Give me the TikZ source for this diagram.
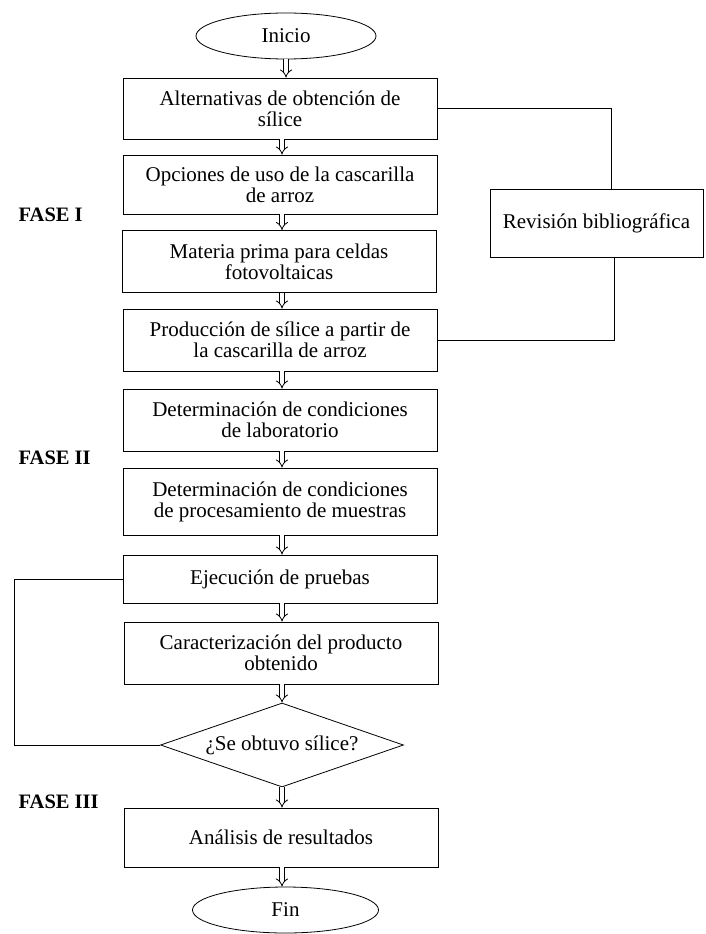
\documentclass[tikz,border=0pt]{standalone}
\usepackage{fontspec}
\setmainfont{Liberation Serif}
\usetikzlibrary{arrows.meta, shapes.geometric, positioning}

\begin{document}
\begin{tikzpicture}[x=1pt, y=-1pt,
    font=\fontsize{21}{21}\selectfont,
    line width=0.8pt,
    caja/.style={draw, minimum width=314pt, minimum height=62pt, inner sep=0pt, align=center},
    terminal/.style={draw, ellipse, minimum width=180pt, minimum height=46pt, inner sep=0pt},
    decision/.style={draw, diamond, minimum width=243pt, minimum height=84pt, inner sep=0pt, aspect=2.9},
    fase/.style={anchor=west, font=\fontsize{20.5}{21}\selectfont\bfseries},
    flecha/.style={double, double distance=3.5pt, line width=0.8pt, -Implies}]
      \useasboundingbox (0,0) rectangle (706,934);
      %
      \node[terminal] (inicio) at (286,36) {Inicio};
      \node[caja, minimum height=61pt] (alt) at (280,108.5) {Alternativas de obtención de\\sílice};
      \node[caja, minimum height=59pt] (opc) at (280,184.5) {Opciones de uso de la cascarilla\\de arroz};
      \node[caja] (mat) at (279,261.5) {Materia prima para celdas\\fotovoltaicas};
      \node[caja] (prod) at (280,340) {Producción de sílice a partir de\\la cascarilla de arroz};
      \node[caja] (lab) at (280,420) {Determinación de condiciones\\de laboratorio};
      \node[caja, minimum height=67pt] (proc) at (280,501.5) {Determinación de condiciones\\de procesamiento de muestras};
      \node[caja, minimum height=48pt] (ejec) at (280,579) {Ejecución de pruebas};
      \node[caja] (carac) at (281,653) {Caracterización del producto\\obtenido};
      \node[decision] (dec) at (282,745) {¿Se obtuvo sílice?};
      \node[caja, minimum height=59pt] (anal) at (281,837.5) {Análisis de resultados};
      \node[terminal, minimum width=186pt] (fin) at (285.5,910) {Fin};
      %
      \node[draw, minimum width=213pt, minimum height=68pt, inner sep=0pt] (rev) at (596.5,223) {Revisión bibliográfica};
      %
      \node[fase] at (15,215) {FASE I};
      \node[fase] at (15,458) {FASE II};
      \node[fase] at (15,802) {FASE III};
      %
      \coordinate (lazo) at (14,745);
      \draw (alt.east) -| ([xshift=15pt]rev.north);
      \draw ([xshift=17.5pt]rev.south) |- (prod.east);
      \draw (ejec.west) -| (lazo) |- (dec.west);
      %
      \draw[flecha] (inicio.south) -- (alt.north -| inicio.south);
      \draw[flecha] (alt.south -| dec.north) -- (opc.north -| dec.north);
      \draw[flecha] (opc.south -| dec.north) -- (mat.north -| dec.north);
      \draw[flecha] (mat.south -| dec.north) -- (prod.north -| dec.north);
      \draw[flecha] (prod.south -| dec.north) -- (lab.north -| dec.north);
      \draw[flecha] (lab.south -| dec.north) -- (proc.north -| dec.north);
      \draw[flecha] (proc.south -| dec.north) -- (ejec.north -| dec.north);
      \draw[flecha] (ejec.south -| dec.north) -- (carac.north -| dec.north);
      \draw[flecha] (carac.south -| dec.north) -- (dec.north);
      \draw[flecha] (dec.south) -- (anal.north -| dec.south);
      \draw[flecha] (anal.south -| dec.south) -- (fin.north -| dec.south);
    \end{tikzpicture}
\end{document}
